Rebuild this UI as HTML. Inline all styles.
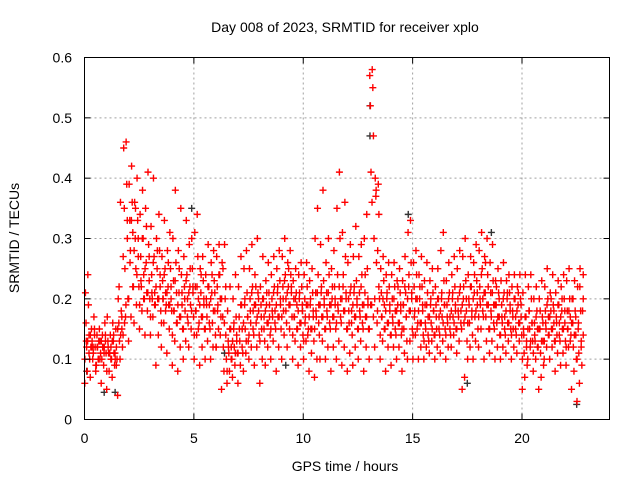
<!DOCTYPE html>
<html><head><meta charset="utf-8"><style>
html,body{margin:0;padding:0;background:#fff}
svg{display:block;font-family:"Liberation Sans",sans-serif}
</style></head><body>
<svg id="chart" width="640" height="480" viewBox="0 0 640 480">
<rect width="640" height="480" fill="#fff"/>
<g id="grid"></g>
<g id="black"></g>
<g id="red"></g>
<rect x="84.5" y="57.5" width="525" height="362" fill="none" stroke="#000" stroke-width="1"/>
<g id="ticks"></g>
<text x="345" y="32" font-size="14" text-anchor="middle">Day 008 of 2023, SRMTID for receiver xplo</text>
<text x="345" y="471" font-size="14" text-anchor="middle">GPS time / hours</text>
<text transform="translate(19,238) rotate(-90)" font-size="14" text-anchor="middle">SRMTID / TECUs</text>
</svg>
<script>
const xTicks=[0,5,10,15,20];
const yTicks=[0,0.1,0.2,0.3,0.4,0.5,0.6];
const yTickLabels=["0","0.1","0.2","0.3","0.4","0.5","0.6"];
const binStart=0, binHours=0.25;
const redBins=[
[.06,.08,.1,.12,.14,.16,.19,.21,.24],[.07,.1,.12,.13,.14,.15,.17,.12,.11],[.08,.1,.11,.12,.13,.14,.15,.09,.13],[.06,.09,.11,.12,.13,.14,.16,.1,.12],
[.05,.08,.1,.11,.12,.13,.14,.17,.11],[.07,.09,.1,.11,.12,.13,.15,.16,.1],[.04,.1,.12,.13,.15,.16,.18,.2,.14],[.14,.17,.2,.25,.3,.35,.39,.45,.46],
[.13,.17,.22,.28,.31,.33,.36,.39,.42],[.16,.19,.22,.25,.27,.3,.33,.36,.4],[.15,.18,.2,.22,.24,.27,.3,.34,.38],[.14,.18,.2,.21,.23,.26,.29,.35,.41],
[.14,.17,.19,.2,.21,.24,.27,.32,.4],[.09,.14,.18,.2,.22,.25,.28,.3,.34],[.12,.16,.19,.2,.21,.23,.25,.27,.33],[.11,.15,.18,.19,.2,.22,.25,.28,.31],
[.09,.13,.16,.18,.21,.23,.26,.3,.38],[.08,.12,.15,.17,.19,.21,.24,.28,.35],[.1,.13,.16,.18,.2,.22,.24,.27,.33],[.12,.15,.17,.19,.21,.22,.25,.29,.3],
[.1,.14,.16,.18,.2,.22,.27,.31,.34],[.09,.12,.15,.17,.19,.21,.23,.25,.27],[.1,.13,.15,.17,.19,.2,.22,.24,.29],[.1,.12,.14,.16,.18,.21,.23,.26,.28],
[.12,.15,.17,.19,.2,.22,.24,.27,.29],[.05,.08,.1,.12,.14,.17,.2,.26,.29],[.06,.08,.1,.11,.12,.13,.15,.18,.22],[.07,.09,.11,.12,.13,.15,.17,.2,.24],
[.06,.09,.11,.13,.15,.17,.19,.22,.27],[.08,.11,.13,.15,.17,.19,.21,.25,.28],[.1,.12,.14,.16,.18,.2,.22,.25,.29],[.09,.12,.14,.16,.18,.19,.21,.24,.3],
[.06,.1,.13,.15,.17,.19,.2,.22,.27],[.09,.12,.14,.16,.17,.19,.21,.23,.26],[.1,.13,.15,.17,.18,.2,.22,.24,.27],[.08,.12,.15,.17,.19,.21,.23,.25,.28],
[.1,.14,.16,.18,.2,.22,.24,.27,.3],[.12,.15,.17,.19,.21,.22,.24,.26,.28],[.1,.13,.15,.17,.19,.2,.21,.23,.25],[.09,.12,.14,.16,.18,.2,.22,.24,.26],
[.1,.13,.15,.17,.19,.2,.22,.24,.26],[.08,.11,.13,.15,.17,.19,.21,.23,.25],[.07,.1,.14,.17,.19,.21,.24,.3,.35],[.1,.13,.15,.17,.19,.21,.23,.29,.38],
[.1,.12,.15,.17,.19,.21,.24,.26,.3],[.08,.12,.15,.17,.19,.2,.22,.25,.28],[.1,.13,.16,.18,.2,.24,.3,.35,.41],[.09,.12,.15,.18,.2,.22,.27,.31,.36],
[.08,.11,.14,.16,.18,.2,.22,.26,.29],[.09,.12,.15,.17,.19,.21,.23,.27,.32],[.1,.13,.15,.17,.19,.21,.24,.27,.29],[.08,.12,.15,.17,.19,.21,.25,.3,.34],
[.1,.19,.3,.41,.47,.52,.55,.57,.58],[.12,.16,.2,.26,.34,.37,.39,.4,.28],[.1,.13,.15,.17,.19,.21,.23,.25,.27],[.08,.12,.14,.16,.18,.2,.22,.24,.26],
[.09,.12,.14,.16,.18,.2,.22,.24,.26],[.1,.12,.14,.16,.18,.19,.21,.23,.25],[.08,.11,.13,.15,.17,.19,.21,.23,.27],[.1,.13,.15,.18,.2,.22,.26,.31,.33],
[.1,.14,.16,.18,.2,.22,.24,.26,.28],[.1,.12,.14,.16,.18,.2,.22,.24,.27],[.1,.12,.13,.15,.17,.19,.21,.23,.26],[.11,.13,.14,.16,.18,.19,.21,.23,.25],
[.1,.12,.14,.15,.17,.19,.2,.22,.25],[.11,.13,.15,.17,.19,.2,.23,.28,.31],[.1,.12,.14,.16,.17,.19,.21,.23,.26],[.12,.14,.15,.17,.18,.2,.22,.24,.27],
[.11,.13,.15,.17,.18,.2,.22,.25,.28],[.05,.07,.13,.16,.18,.2,.23,.27,.3],[.1,.12,.14,.16,.18,.2,.22,.24,.27],[.1,.13,.15,.17,.19,.21,.23,.26,.29],
[.12,.15,.17,.19,.2,.22,.25,.28,.31],[.1,.13,.15,.17,.19,.21,.24,.27,.3],[.11,.13,.15,.17,.19,.21,.23,.26,.29],[.1,.12,.14,.16,.17,.19,.21,.23,.25],
[.1,.12,.14,.16,.17,.19,.21,.23,.26],[.11,.13,.15,.16,.18,.2,.21,.23,.24],[.1,.12,.14,.15,.17,.18,.2,.22,.24],[.11,.13,.14,.16,.17,.19,.2,.22,.24],
[.05,.07,.09,.11,.13,.15,.17,.21,.24],[.1,.12,.13,.15,.16,.18,.2,.22,.24],[.08,.1,.12,.13,.15,.16,.18,.2,.22],[.05,.07,.09,.11,.13,.15,.17,.2,.23],
[.1,.12,.14,.15,.17,.18,.2,.22,.25],[.1,.12,.13,.15,.16,.18,.19,.21,.24],[.08,.11,.13,.14,.16,.17,.19,.21,.23],[.09,.11,.13,.15,.16,.18,.2,.22,.24],
[.09,.12,.14,.15,.17,.18,.2,.23,.25],[.05,.08,.1,.12,.14,.16,.18,.2,.23],[.03,.06,.09,.11,.13,.15,.18,.22,.25]
];
const coreBinHours=0.5;
const redCoreBins=[
[.1,.11,.12,.13,.14,.15,.13,.12],[.09,.1,.11,.12,.13,.14,.1,.12],[.08,.1,.11,.12,.13,.09,.11,.14],[.15,.17,.19,.22,.27,.33,.36,.16],
[.2,.22,.24,.26,.28,.3,.33,.35],[.19,.2,.21,.23,.25,.27,.3,.32],[.17,.19,.2,.21,.22,.24,.26,.28],[.16,.18,.19,.2,.21,.22,.24,.26],
[.14,.16,.17,.18,.19,.21,.23,.25],[.15,.17,.18,.2,.21,.22,.23,.25],[.14,.15,.17,.18,.19,.2,.22,.24],[.15,.16,.18,.19,.2,.21,.22,.24],
[.12,.14,.16,.18,.2,.22,.24,.25],[.08,.1,.11,.12,.13,.14,.15,.16],[.11,.12,.13,.15,.16,.17,.19,.2],[.14,.15,.17,.18,.19,.2,.21,.22],
[.13,.15,.16,.17,.18,.19,.2,.21],[.15,.16,.17,.18,.19,.2,.21,.22],[.17,.18,.19,.2,.21,.22,.23,.25],[.14,.15,.16,.17,.18,.19,.2,.21],
[.13,.14,.15,.16,.17,.18,.19,.2],[.15,.16,.17,.18,.19,.2,.21,.22],[.15,.16,.17,.18,.19,.2,.21,.22],[.16,.17,.18,.19,.2,.21,.22,.24],
[.15,.16,.17,.18,.19,.2,.21,.22],[.15,.16,.17,.18,.19,.2,.22,.24],[.15,.17,.18,.19,.2,.22,.36,.38],[.14,.15,.16,.17,.18,.19,.2,.21],
[.14,.15,.16,.17,.18,.19,.2,.22],[.15,.17,.18,.19,.2,.21,.22,.24],[.14,.15,.16,.17,.18,.19,.2,.22],[.13,.14,.15,.16,.17,.18,.19,.2],
[.14,.15,.16,.17,.18,.19,.2,.21],[.14,.15,.16,.17,.18,.19,.2,.21],[.15,.16,.17,.18,.19,.2,.21,.22],[.16,.17,.18,.19,.2,.21,.22,.24],
[.17,.18,.19,.2,.21,.22,.24,.26],[.15,.16,.17,.18,.19,.2,.21,.22],[.14,.15,.16,.17,.18,.19,.2,.21],[.14,.15,.16,.17,.18,.19,.2,.21],
[.1,.12,.13,.14,.15,.16,.17,.18],[.11,.12,.13,.14,.15,.16,.17,.18],[.13,.14,.15,.16,.17,.18,.19,.2],[.13,.14,.15,.16,.17,.18,.19,.2],
[.12,.13,.14,.15,.16,.17,.18,.2],[.1,.12,.14,.16,.18,.2,.22,.24]
];
const blackHours=[0.9,1.4,13.05,13.05,22.5,17.5,14.8,18.6,4.9,0.1,6.4,9.2];
const blackValues=[0.045,0.045,0.52,0.47,0.025,0.06,0.34,0.31,0.35,0.08,0.11,0.09];

const X0=84.5,X1=609.5,Y0=419.5,Y1=57.5,XMAX=24,YMAX=0.6;
const sx=h=>X0+(h/XMAX)*(X1-X0);
const sy=v=>Y0-(v/YMAX)*(Y0-Y1);
const NS="http://www.w3.org/2000/svg";
function mk(tag,attrs,parent){const e=document.createElementNS(NS,tag);for(const k in attrs)e.setAttribute(k,attrs[k]);parent.appendChild(e);return e;}
const grid=document.getElementById('grid'),ticks=document.getElementById('ticks');
xTicks.forEach((t,i)=>{
  const x=sx(t);
  if(t>0){const g=mk('line',{x1:x,x2:x,y1:Y1,y2:Y0,stroke:'#a0a0a0','stroke-dasharray':'2,3'},grid);
  
  }
  const a=mk('line',{x1:x,x2:x,y1:Y0,y2:Y0-6,stroke:'#000'},ticks);
  
  
  const b=mk('line',{x1:x,x2:x,y1:Y1,y2:Y1+6,stroke:'#000'},ticks);
  
  
  const l=mk('text',{x:x,y:443,'font-size':14,'text-anchor':'middle'},ticks);
  l.textContent=String(t);
  
  
});
yTicks.forEach((t,i)=>{
  const y=sy(t);
  if(t>0&&t<YMAX){const g=mk('line',{x1:X0,x2:X1,y1:y,y2:y,stroke:'#a0a0a0','stroke-dasharray':'2,3'},grid);
  
  }
  const a=mk('line',{x1:X0,x2:X0+6,y1:y,y2:y,stroke:'#000'},ticks);
  
  
  const b=mk('line',{x1:X1,x2:X1-6,y1:y,y2:y,stroke:'#000'},ticks);
  
  
  const l=mk('text',{x:72,y:y+5,'font-size':14,'text-anchor':'end'},ticks);
  l.textContent=yTickLabels[i];
  
  
});
function plus(x,y,color,parent){
  return mk('path',{d:`M${x-3.5},${y}h7M${x},${y-3.5}v7`,stroke:color,'stroke-width':1.4,fill:'none'},parent);
}
const bg=document.getElementById('black');
blackHours.forEach((h,i)=>{
  const p=plus(sx(h),sy(blackValues[i]),'#333',bg);
  
  
});
const rg=document.getElementById('red');
redBins.forEach((vals,b)=>{
  vals.forEach((v,j)=>{
    const frac=((j*4)%vals.length+0.5)/vals.length;
    const h=binStart+(b+frac)*binHours;
    const p=plus(sx(h),sy(v),'#ff0000',rg);
    
    
  });
});
redCoreBins.forEach((vals,b)=>{
  vals.forEach((v,j)=>{
    const frac=((j*3)%vals.length+0.3)/vals.length;
    const h=Math.min(binStart+(b+frac)*coreBinHours,22.8);
    const p=plus(sx(h),sy(v),'#ff0000',rg);
    
    
  });
});
</script>
</body></html>
